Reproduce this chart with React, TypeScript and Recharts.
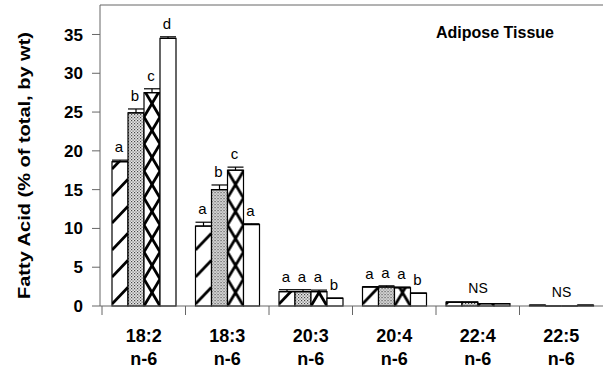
import { Bar, BarChart, ErrorBar, LabelList, ReferenceLine, XAxis, YAxis } from "recharts";

const acids = ["18:2", "18:3", "20:3", "20:4", "22:4", "22:5"];
const family = "n-6";

const diet1 = [18.6, 10.3, 1.85, 2.45, 0.5, 0.1];
const diet2 = [24.9, 15.0, 1.85, 2.45, 0.5, 0];
const diet3 = [27.5, 17.5, 1.85, 2.35, 0.3, 0];
const diet4 = [34.5, 10.5, 1.0, 1.65, 0.3, 0.1];

const err1 = [0.2, 0.5, 0.25, 0.05, 0, 0];
const err2 = [0.5, 0.6, 0.25, 0.15, 0, 0];
const err3 = [0.5, 0.4, 0.2, 0.1, 0, 0];
const err4 = [0.2, 0.1, 0, 0, 0, 0];

const letters1 = ["a", "a", "a", "a", "", ""];
const letters2 = ["b", "b", "a", "a", "NS", "NS"];
const letters3 = ["c", "c", "a", "a", "", ""];
const letters4 = ["d", "a", "b", "b", "", ""];

const yTicks = [0, 5, 10, 15, 20, 25, 30, 35];
const Y_MAX = 38.8;

const W = 603;
const H = 372;
const TOP = 5;
const BOTTOM = 66;
const LEFT = 100;
const PAD_LEFT = 2;
const AXIS_Y = H - BOTTOM;
const PX_PER_UNIT = (H - TOP - BOTTOM) / Y_MAX;
const BAND = (W - LEFT - PAD_LEFT) / acids.length;
const FONT = "'Liberation Sans', Arial, sans-serif";
const AXIS_COLOR = "#666";

const data = acids.map((acid, i) => ({
  acid,
  v1: diet1[i],
  v2: diet2[i],
  v3: diet3[i],
  v4: diet4[i],
  e1: [0, err1[i]],
  e2: [0, err2[i]],
  e3: [0, err3[i]],
  e4: [0, err4[i]],
  l1: letters1[i],
  l2: letters2[i],
  l3: letters3[i],
  l4: letters4[i],
}));

function PatternBar(props: any) {
  const { x, y, width, height, index, kind } = props;
  if (width == null || height == null) return null;
  const id = `${kind}-${index}`;
  const bottom = y + height;
  let pattern = null;
  if (kind === "diag") {
    pattern = (
      <pattern id={id} patternUnits="userSpaceOnUse" x={x} y={bottom} width={width} height={27}>
        <rect width={width} height={27} fill="#fff" />
        <line x1={0} y1={25} x2={width} y2={25 - width * 1.05} stroke="#000" strokeWidth={2.8} />
      </pattern>
    );
  } else if (kind === "dots") {
    pattern = (
      <pattern id={id} patternUnits="userSpaceOnUse" x={x} y={bottom} width={3} height={3}>
        <rect width={3} height={3} fill="#e6e6e6" />
        <rect x={0} y={0} width={1.2} height={1.2} fill="#444" />
        <rect x={1.5} y={1.5} width={1.2} height={1.2} fill="#666" />
      </pattern>
    );
  } else if (kind === "cross") {
    pattern = (
      <pattern id={id} patternUnits="userSpaceOnUse" x={x} y={bottom} width={width} height={27}>
        <rect width={width} height={27} fill="#fff" />
        <line x1={0} y1={0} x2={width} y2={27} stroke="#000" strokeWidth={2.8} />
        <line x1={width} y1={0} x2={0} y2={27} stroke="#000" strokeWidth={2.8} />
      </pattern>
    );
  }
  return (
    <g>
      {pattern && <defs>{pattern}</defs>}
      <rect
        x={x}
        y={y}
        width={width}
        height={height}
        fill={pattern ? `url(#${id})` : "#fff"}
        stroke="#000"
        strokeWidth={1.2}
      />
    </g>
  );
}

function letterContent(errs: number[]) {
  return (props: any) => {
    const vb = props.viewBox ?? props;
    const { x, y, width } = vb;
    const value = props.value;
    if (!value) return null;
    const e = errs[props.index] ?? 0;
    if (value === "NS") {
      return (
        <text x={x + width} y={y - 9} textAnchor="middle" fontSize={14} fontFamily={FONT} fill="#000">
          NS
        </text>
      );
    }
    return (
      <text
        x={x + width / 2 - 1}
        y={y - e * PX_PER_UNIT - 8}
        textAnchor="middle"
        fontSize={15}
        fontFamily={FONT}
        fill="#000"
      >
        {value}
      </text>
    );
  };
}

function AcidTick(props: any) {
  const { x, payload } = props;
  const left = x - BAND / 2;
  return (
    <g>
      <line x1={left} x2={left} y1={AXIS_Y} y2={AXIS_Y + 9} stroke={AXIS_COLOR} />
      <text x={x} y={AXIS_Y + 36} textAnchor="middle" fontSize={18} fontWeight="bold" fontFamily={FONT} fill="#000">
        {payload.value}
      </text>
      <text x={x} y={AXIS_Y + 59} textAnchor="middle" fontSize={18} fontWeight="bold" fontFamily={FONT} fill="#000">
        {family}
      </text>
    </g>
  );
}

function YLabel() {
  const cx = 30;
  const cy = 165.5;
  return (
    <text
      x={cx}
      y={cy}
      transform={`rotate(-90 ${cx} ${cy})`}
      textAnchor="middle"
      fontSize={17}
      fontWeight="bold"
      fontFamily={FONT}
      fill="#000"
      textLength={267}
      lengthAdjust="spacingAndGlyphs"
    >
      Fatty Acid (% of total, by wt)
    </text>
  );
}

const series = [
  { key: "v1", err: "e1", lab: "l1", kind: "diag", errs: err1 },
  { key: "v2", err: "e2", lab: "l2", kind: "dots", errs: err2 },
  { key: "v3", err: "e3", lab: "l3", kind: "cross", errs: err3 },
  { key: "v4", err: "e4", lab: "l4", kind: "plain", errs: err4 },
];

export default function App() {
  return (
    <div style={{ position: "absolute", left: 0, top: 0, width: W, height: H, background: "#fff" }}>
      <BarChart
        width={W}
        height={H}
        data={data}
        margin={{ top: TOP, right: 0, bottom: 0, left: 0 }}
        barCategoryGap={10}
        barGap={0}
      >
        <XAxis
          dataKey="acid"
          height={BOTTOM}
          padding={{ left: PAD_LEFT, right: 0 }}
          tickLine={false}
          axisLine={{ stroke: AXIS_COLOR }}
          tick={<AcidTick />}
          interval={0}
        />
        <YAxis
          width={LEFT}
          domain={[0, Y_MAX]}
          ticks={yTicks}
          tickSize={8}
          tickMargin={9}
          axisLine={{ stroke: AXIS_COLOR }}
          tickLine={{ stroke: AXIS_COLOR }}
          tick={{ fill: "#000", fontSize: 17, fontWeight: "bold", fontFamily: FONT }}
          label={{ content: () => <YLabel /> }}
        />
        <ReferenceLine y={Y_MAX} stroke={AXIS_COLOR} />
        {series.map((s) => (
          <Bar
            key={s.key}
            dataKey={s.key}
            isAnimationActive={false}
            shape={(p: any) => <PatternBar {...p} kind={s.kind} />}
          >
            <ErrorBar dataKey={s.err} width={8} stroke="#000" strokeWidth={1.2} direction="y" />
            <LabelList dataKey={s.lab} content={letterContent(s.errs)} />
          </Bar>
        ))}
      </BarChart>
      <div
        style={{
          position: "absolute",
          left: 436,
          top: 25,
          fontFamily: FONT,
          fontWeight: "bold",
          fontSize: 16,
          lineHeight: "16px",
          whiteSpace: "nowrap",
        }}
      >
        Adipose Tissue
      </div>
    </div>
  );
}
